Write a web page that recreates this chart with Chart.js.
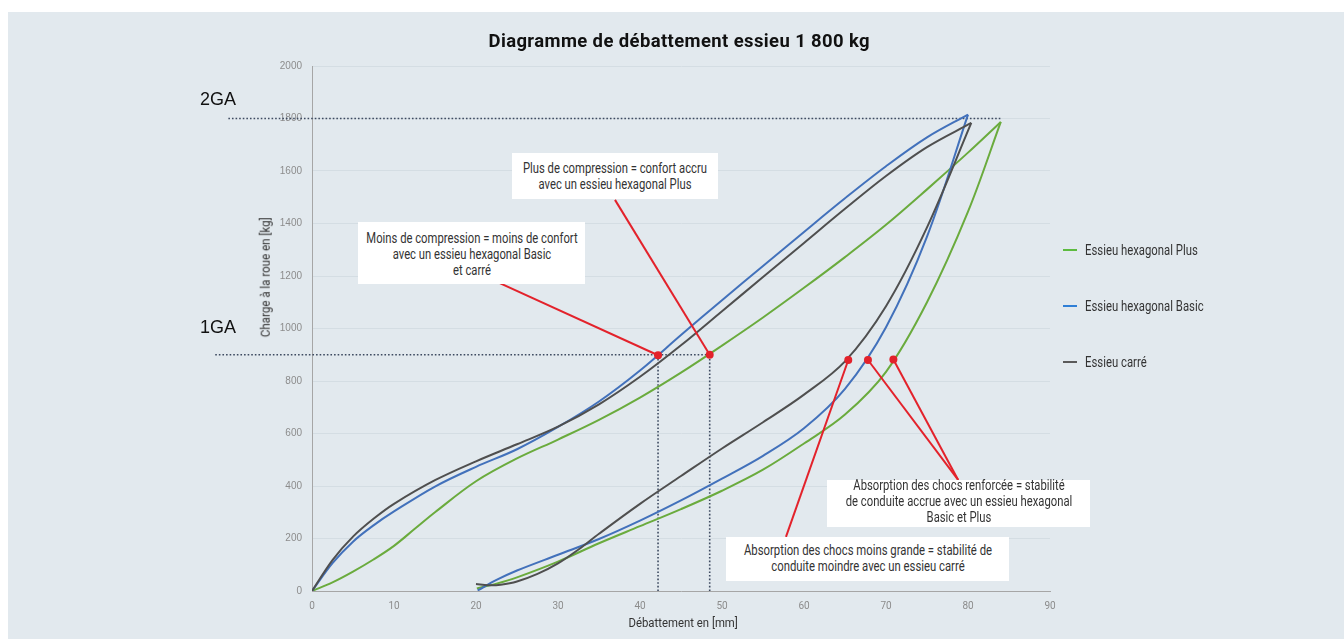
<!DOCTYPE html>
<html>
<head>
<meta charset="utf-8">
<script src="https://cdn.jsdelivr.net/npm/chart.js@4.4.1/dist/chart.umd.min.js"></script>
<style>
  body { margin: 0; width: 1344px; height: 639px; overflow: hidden; background: #fff; font-family: Roboto, sans-serif; }
  #wrap { position: absolute; left: 8px; top: 12px; width: 1336px; height: 627px; background: #e2e9ee; }
  canvas { position: absolute; left: 0; top: 0; }
  .box { position: absolute; background: #fff; color: #333; font-size: 14.5px; line-height: 16px; }
  .box > span { position: absolute; left: 50%; white-space: nowrap; text-align: center; transform-origin: 50% 0; }
  .ga { position: absolute; font-family: "Liberation Sans", sans-serif; font-size: 18px; color: #111; }
  .leg { position: absolute; left: 1055px; font-size: 14px; color: #333; line-height: 16px; white-space: nowrap; }
  .leg i { display: inline-block; width: 14px; height: 2px; margin-right: 8px; vertical-align: middle; position: relative; top: -1px; }
  .leg span { display: inline-block; transform-origin: 0 50%; }
  .lbl { position: absolute; white-space: nowrap; line-height: 1; }
  #title { font-size: 19px; font-weight: bold; color: #111; letter-spacing: 0.4px; }
  #ytitle, #xtitle { font-size: 12.5px; color: #333; }
</style>
</head>
<body>
<div id="wrap">
  <canvas id="chart" width="1336" height="627"></canvas>
  <div class="lbl" id="title" data-cx="671" data-cy="28" data-w="382">Diagramme de débattement essieu 1 800 kg</div>
  <div class="lbl" id="ytitle" data-cx="258" data-cy="265" data-w="120" data-rot="1">Charge à la roue en [kg]</div>
  <div class="lbl" id="xtitle" data-cx="675" data-cy="611" data-w="109">Débattement en [mm]</div>
  <div class="ga" style="left:192px; top:77px">2GA</div>
  <div class="ga" style="left:192px; top:305px">1GA</div>
  <div class="box" style="left:350px; top:210px; width:227px; height:62px">
    <span data-w="211" style="top:9px">Moins de compression = moins de confort<br>avec un essieu hexagonal Basic<br>et carré</span></div>
  <div class="box" style="left:504px; top:141px; width:206px; height:46px">
    <span data-w="184" style="top:8px">Plus de compression = confort accru<br>avec un essieu hexagonal Plus</span></div>
  <div class="box" style="left:819px; top:468px; width:263px; height:47px">
    <span data-w="227" style="top:-2px">Absorption des chocs renforcée = stabilité<br>de conduite accrue avec un essieu hexagonal<br>Basic et Plus</span></div>
  <div class="box" style="left:718px; top:525px; width:283px; height:44px">
    <span data-w="248" style="top:6px">Absorption des chocs moins grande = stabilité de<br>conduite moindre avec un essieu carré</span></div>
  <div id="legend"></div>
</div>
<script>
// x ticks / y ticks
const xTicks = [0, 10, 20, 30, 40, 50, 60, 70, 80, 90];
const yTicks = [0, 200, 400, 600, 800, 1000, 1200, 1400, 1600, 1800, 2000];

const seriesNames = ['Essieu hexagonal Plus', 'Essieu hexagonal Basic', 'Essieu carré'];
const seriesColors = ['#6aab3d', '#4271bb', '#4f4f4f'];
const legendColors = ['#5dbb3f', '#2f7fd6', '#5a5a5a'];

// Essieu hexagonal Plus : branche montante / descendante
const plusUpX = [0, 2.5, 5, 7.5, 10, 12.5, 15, 20, 25, 30, 35, 40, 45, 50, 55, 60, 65, 70, 75, 80, 84];
const plusUpY = [0, 33, 74, 120, 172, 236, 300, 418, 505, 577, 652, 737, 832, 935, 1042, 1155, 1272, 1395, 1530, 1670, 1787];
const plusLowX = [20.1, 22.5, 25, 30, 35, 40, 45, 50, 55, 60, 65, 70, 75, 80, 84];
const plusLowY = [10, 28, 52, 112, 182, 247, 312, 382, 462, 562, 672, 835, 1100, 1445, 1787];

// Essieu hexagonal Basic
const basicUpX = [0, 2.5, 5, 7.5, 10, 15, 20, 25, 30, 35, 40, 45, 50, 55, 60, 65, 70, 75, 80];
const basicUpY = [0, 106, 188, 250, 303, 398, 473, 540, 625, 722, 840, 975, 1108, 1238, 1368, 1496, 1618, 1728, 1815];
const basicLowX = [20.2, 22.5, 25, 30, 35, 40, 45, 50, 55, 60, 65, 70, 75, 80];
const basicLowY = [2, 42, 78, 138, 198, 268, 345, 428, 515, 620, 770, 1005, 1350, 1815];

// Essieu carré
const carreUpX = [0, 2.5, 5, 7.5, 10, 15, 20, 25, 30, 35, 40, 45, 50, 55, 60, 65, 70, 75, 80.4];
const carreUpY = [0, 118, 207, 275, 332, 422, 494, 559, 626, 711, 816, 936, 1066, 1196, 1326, 1456, 1581, 1691, 1783];
const carreLowX = [20, 21.5, 23, 25, 27.5, 30, 32.5, 35, 40, 45, 50, 55, 60, 65, 70, 75, 80.4];
const carreLowY = [27, 22, 24, 36, 65, 105, 158, 218, 332, 438, 543, 643, 748, 875, 1085, 1385, 1783];

// red callouts: start (at the text box) -> dot on a curve
const calloutFromX = [22.9, 36.95, 57.8, 78.8, 78.8];
const calloutFromY = [1173, 1490, 206, 423, 423];
const dotX = [42.2, 48.5, 65.4, 67.8, 70.9];
const dotY = [898, 900, 880, 880, 882];

// dotted guides (2GA / 1GA)
const guideHX = [[-10.2, 84], [-11.8, 48.5]];
const guideHY = [1800, 900];
const guideVX = [42.2, 48.5];
const guideVTop = 900;

const pts = (xs, ys) => xs.map((x, i) => ({ x: x, y: ys[i] }));

const datasets = [];

// red lines + dots on top
calloutFromX.forEach((x, i) => {
  datasets.push({ data: [{ x: x, y: calloutFromY[i] }, { x: dotX[i], y: dotY[i] }],
    showLine: true, borderColor: '#e3222b', borderWidth: 2, pointRadius: 0, clip: false });
});
datasets.push({ data: pts(dotX, dotY), showLine: false, pointRadius: 4,
  pointBackgroundColor: '#e3222b', pointBorderColor: '#e3222b', borderWidth: 0 });

const branches = [
  [plusUpX, plusUpY, 0], [plusLowX, plusLowY, 0],
  [basicUpX, basicUpY, 1], [basicLowX, basicLowY, 1],
  [carreUpX, carreUpY, 2], [carreLowX, carreLowY, 2]
];
// carré drawn over the others
[4, 5, 2, 3, 0, 1].forEach(k => {
  const b = branches[k];
  datasets.push({ label: seriesNames[b[2]], data: pts(b[0], b[1]), showLine: true,
    borderColor: seriesColors[b[2]], borderWidth: 2, pointRadius: 0, tension: 0.35 });
});

// dotted guides
const dotStyle = { showLine: true, borderColor: '#3d4a60', borderWidth: 1.6, borderDash: [1.6, 2], pointRadius: 0, clip: false };
guideHY.forEach((y, i) => {
  datasets.push(Object.assign({ data: guideHX[i].map(x => ({ x: x, y: y })) }, dotStyle));
});
guideVX.forEach(x => {
  datasets.push(Object.assign({ data: [{ x: x, y: 0 }, { x: x, y: guideVTop }] }, dotStyle));
});

new Chart(document.getElementById('chart'), {
  type: 'scatter',
  data: { datasets: datasets },
  options: {
    responsive: false,
    animation: false,
    devicePixelRatio: 1,
    layout: { padding: { left: 248, right: 294, top: 54, bottom: 0 } },
    plugins: { legend: { display: false }, tooltip: { enabled: false } },
    scales: {
      x: {
        type: 'linear', min: 0, max: 90,
        afterBuildTicks: s => { s.ticks = xTicks.map(v => ({ value: v })); },
        ticks: { color: '#8c8c8c', font: { family: 'Roboto', size: 10 }, padding: 9 },
        grid: { display: false, drawTicks: false },
        border: { color: '#a6a6a6' },
        afterFit: s => { s.height = 48; }
      },
      y: {
        type: 'linear', min: 0, max: 2000,
        afterBuildTicks: s => { s.ticks = yTicks.map(v => ({ value: v })); },
        ticks: { color: '#8c8c8c', font: { family: '"Liberation Sans", sans-serif', size: 10 }, padding: 10,
          callback: v => String(v) },
        grid: { color: '#d4dde3', drawTicks: false },
        border: { color: '#a6a6a6' },
        afterFit: s => { s.width = 56; }
      }
    }
  }
});

// legend
const legendTops = [230, 286, 342];
document.getElementById('legend').innerHTML = seriesNames.map((n, i) =>
  `<div class="leg" style="top:${legendTops[i]}px"><i style="background:${legendColors[i]}"></i><span>${n}</span></div>`).join('');
const legSpans = document.querySelectorAll('.leg span');
const legScale = 119 / legSpans[1].offsetWidth;
legSpans.forEach(s => { s.style.transform = `scaleX(${legScale})`; });

// condensed look: squeeze text to the widths of the original
document.querySelectorAll('.box > span').forEach(s => {
  s.style.transform = `translateX(-50%) scaleX(${s.dataset.w / s.offsetWidth})`;
});
document.querySelectorAll('.lbl').forEach(el => {
  const k = el.dataset.w / el.offsetWidth;
  el.style.left = (el.dataset.cx - el.offsetWidth / 2) + 'px';
  el.style.top = (el.dataset.cy - el.offsetHeight / 2) + 'px';
  el.style.transform = (el.dataset.rot ? 'rotate(-90deg) ' : '') + `scaleX(${k})`;
});
</script>
</body>
</html>
